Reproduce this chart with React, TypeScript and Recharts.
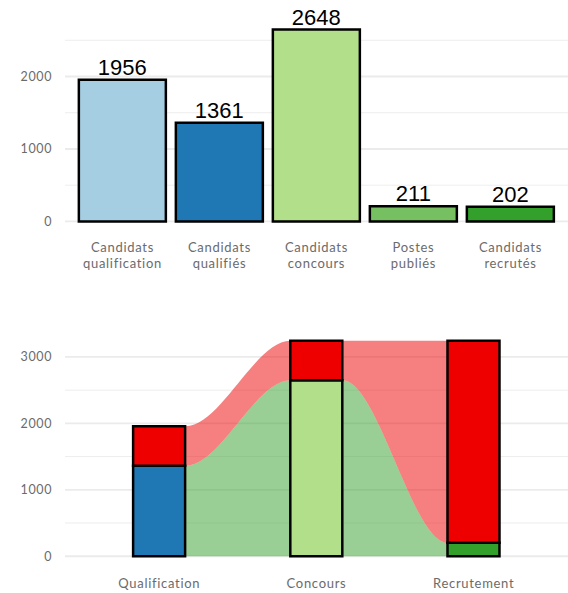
import {
  BarChart,
  ComposedChart,
  Bar,
  Area,
  Cell,
  XAxis,
  YAxis,
  CartesianGrid,
  LabelList,
} from "recharts";

// étapes du haut
const steps = [
  "Candidats\nqualification",
  "Candidats\nqualifiés",
  "Candidats\nconcours",
  "Postes\npubliés",
  "Candidats\nrecrutés",
];
const stepValues = [1956, 1361, 2648, 211, 202];
const stepColors = ["#A6CEE3", "#1F78B4", "#B2DF8A", "#77C062", "#33A02C"];
const topTicks = [0, 1000, 2000];
const topMinor = [500, 1500, 2500];

// flux du bas
const stages = ["Qualification", "Concours", "Recrutement"];
const stageKept = [1361, 2648, 202];
const stageLost = [595, 595, 3041];
const stageColors = ["#1F78B4", "#B2DF8A", "#33A02C"];
const bottomTicks = [0, 1000, 2000, 3000];
const bottomMinor = [500, 1500, 2500];

const BAR_W = 1 / 3;
const FONT = "Lato, 'Open Sans', sans-serif";
const GREY = "#6b6b6b";
const GRID = "#EBEBEB";
const PLOT_W = 503;

const topData = steps.map((name, i) => ({ name, value: stepValues[i] }));

const stageData = stages.map((name, i) => ({
  name,
  kept: stageKept[i],
  lost: stageLost[i],
}));

// two points per stage, at the bar edges
const flowData = stages.flatMap((_, i) =>
  [-1, 1].map((side) => ({
    x: i + 1 + (side * BAR_W) / 2,
    kept: stageKept[i],
    total: stageKept[i] + stageLost[i],
  }))
);

const yTick = { fill: GREY, fontSize: 12.5, fontFamily: FONT, letterSpacing: 0.6 };

function MultiTick(props: any) {
  const { x, y, payload } = props;
  const lines = String(payload.value).split("\n");
  return (
    <g>
      {lines.map((l: string, i: number) => (
        <text
          key={i}
          x={x}
          y={y + 21 + i * 16}
          textAnchor="middle"
          fill={GREY}
          fontSize={13}
          letterSpacing={0.7}
          fontFamily={FONT}
        >
          {l}
        </text>
      ))}
    </g>
  );
}

export default function App() {
  const unit = PLOT_W / 3.2;
  return (
    <div style={{ position: "absolute", left: 0, top: 0, width: 568, height: 593 }}>
      <div style={{ position: "absolute", left: 0, top: 0 }}>
        <BarChart
          width={568}
          height={290}
          data={topData}
          margin={{ top: 20, right: 0, bottom: 0, left: 8 }}
          barCategoryGap="5%"
        >
          <CartesianGrid vertical={false} horizontalValues={topMinor} stroke={GRID} strokeWidth={0.9} />
          <CartesianGrid vertical={false} horizontalValues={topTicks} stroke={GRID} strokeWidth={1.8} />
          <XAxis
            dataKey="name"
            height={59}
            axisLine={false}
            tickLine={false}
            tickSize={0}
            tickMargin={0}
            interval={0}
            padding={{ left: 9, right: 9 }}
            tick={<MultiTick />}
          />
          <YAxis
            width={57}
            type="number"
            domain={[-132, 2780]}
            allowDataOverflow
            ticks={topTicks}
            axisLine={false}
            tickLine={false}
            tickSize={0}
            tickMargin={13}
            tick={yTick}
          />
          <Bar dataKey="value" stroke="#000" strokeWidth={2.5} isAnimationActive={false}>
            {topData.map((_, i) => (
              <Cell key={i} fill={stepColors[i]} />
            ))}
            <LabelList
              dataKey="value"
              position="top"
              offset={5}
              fill="#000"
              fontSize={22}
              fontFamily="'Liberation Sans', Arial, sans-serif"
            />
          </Bar>
        </BarChart>
      </div>
      <div style={{ position: "absolute", left: 0, top: 290 }}>
        <ComposedChart
          width={568}
          height={303}
          data={stageData}
          margin={{ top: 40, right: 0, bottom: 0, left: 8 }}
          barCategoryGap={`${((1 - BAR_W) / 2) * 100}%`}
        >
          <CartesianGrid vertical={false} horizontalValues={bottomMinor} stroke={GRID} strokeWidth={0.9} />
          <CartesianGrid vertical={false} horizontalValues={bottomTicks} stroke={GRID} strokeWidth={1.8} />
          <XAxis
            xAxisId="cat"
            dataKey="name"
            height={26}
            axisLine={false}
            tickLine={false}
            tickSize={0}
            tickMargin={0}
            interval={0}
            padding={{ left: unit * 0.1, right: unit * 0.1 }}
            tick={<MultiTick />}
          />
          <XAxis
            xAxisId="num"
            dataKey="x"
            type="number"
            domain={[0.4, 3.6]}
            allowDataOverflow
            hide
          />
          <YAxis
            width={57}
            type="number"
            domain={[-162, 3405]}
            allowDataOverflow
            ticks={bottomTicks}
            axisLine={false}
            tickLine={false}
            tickSize={0}
            tickMargin={13}
            tick={yTick}
          />
          <Area
            xAxisId="num"
            data={flowData}
            dataKey={(d: any) => [0, d.kept]}
            type="monotoneX"
            fill="#33A02C"
            fillOpacity={0.5}
            stroke="none"
            isAnimationActive={false}
          />
          <Area
            xAxisId="num"
            data={flowData}
            dataKey={(d: any) => [d.kept, d.total]}
            type="monotoneX"
            fill="#EE0000"
            fillOpacity={0.5}
            stroke="none"
            isAnimationActive={false}
          />
          <Bar xAxisId="cat" dataKey="kept" stackId="s" stroke="#000" strokeWidth={2.5} isAnimationActive={false}>
            {stageData.map((_, i) => (
              <Cell key={i} fill={stageColors[i]} />
            ))}
          </Bar>
          <Bar xAxisId="cat" dataKey="lost" stackId="s" fill="#EE0000" stroke="#000" strokeWidth={2.5} isAnimationActive={false} />
        </ComposedChart>
      </div>
    </div>
  );
}
